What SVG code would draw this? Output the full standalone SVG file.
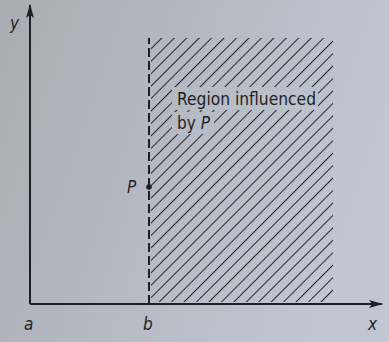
<svg xmlns="http://www.w3.org/2000/svg" width="389" height="342" viewBox="0 0 389 342">
<style>
.ax{stroke:#1e1f24;stroke-width:2;fill:none}
.lbl{font-family:"Liberation Sans Narrow","DejaVu Sans Condensed","Liberation Sans",sans-serif;fill:#1e1f24}
.it{font-style:italic;font-size:17px}
</style>
<defs>
<linearGradient id="bg" x1="0" y1="0" x2="1" y2="0.3">
<stop offset="0" stop-color="#aaacb2"/>
<stop offset="0.5" stop-color="#b5b9c2"/>
<stop offset="1" stop-color="#c0c7d2"/>
</linearGradient>
<pattern id="hatch" patternUnits="userSpaceOnUse" width="8.8" height="8.8" patternTransform="rotate(45)">
<line x1="0" y1="0" x2="0" y2="8.8" stroke="#22242a" stroke-width="2"/>
</pattern>
<mask id="m">
<rect x="150" y="38" width="183" height="264" fill="#fff"/>
<rect x="172" y="87" width="146" height="23" fill="#000"/>
<rect x="172" y="112" width="42" height="22" fill="#000"/>
</mask>
<marker id="arr" markerWidth="14" markerHeight="8" refX="13" refY="4" orient="auto" markerUnits="userSpaceOnUse">
<path d="M0,0 L14,4 L0,8 L3,4 Z" fill="#1e1f24"/>
</marker>
</defs>
<rect width="389" height="342" fill="url(#bg)"/>
<g id="hatched-region">
<rect x="151" y="38" width="182" height="264" fill="url(#hatch)" mask="url(#m)"/>
</g>
<g id="connectors">
<line class="ax" x1="30" y1="304" x2="30" y2="5" marker-end="url(#arr)"/>
<line class="ax" x1="30" y1="304" x2="382" y2="304" marker-end="url(#arr)"/>
<line class="ax" x1="149" y1="304" x2="149" y2="38" stroke-width="2.6" stroke-dasharray="9,4"/>
</g>
<g id="point-P">
<circle cx="149" cy="187" r="2.8" fill="#1e1f24"/>
<text class="lbl it" x="127" y="193">P</text>
</g>
<g id="region-label">
<text class="lbl" x="177" y="105" font-size="17" textLength="139" lengthAdjust="spacingAndGlyphs">Region influenced</text>
<text class="lbl" x="177" y="129" font-size="17">by <tspan font-style="italic">P</tspan></text>
</g>
<g id="axis-labels">
<text class="lbl it" x="10" y="29">y</text>
<text class="lbl it" x="24" y="330">a</text>
<text class="lbl it" x="143" y="330">b</text>
<text class="lbl it" x="368" y="330">x</text>
</g>
</svg>
